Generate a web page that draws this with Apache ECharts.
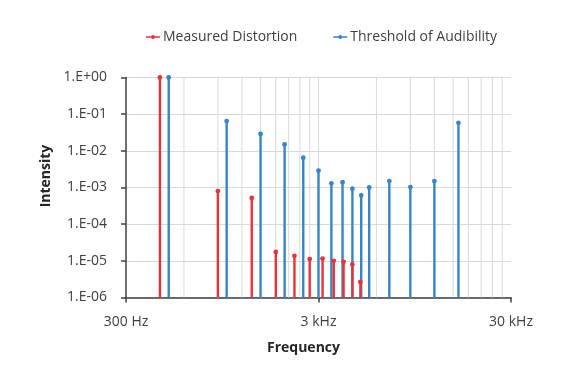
<!DOCTYPE html>
<html>
<head>
<meta charset="utf-8">
<script src="https://cdn.jsdelivr.net/npm/echarts@6/dist/echarts.min.js"></script>
<style>
  html, body { margin: 0; padding: 0; background: #fff; }
  #chart { width: 569px; height: 379px; }
</style>
</head>
<body>
<div id="chart"></div>
<script>
// ---- data ----
const distortionFreq = [450, 900, 1350, 1800, 2250, 2700, 3150, 3600, 4050, 4500, 4950];
const distortionValue = [1, 8.0e-4, 5.2e-4, 1.75e-5, 1.37e-5, 1.12e-5, 1.15e-5, 1.0e-5, 9.4e-6, 8.0e-6, 2.65e-6];
const thresholdFreq = [500, 1000, 1500, 2000, 2500, 3000, 3500, 4000, 4500, 5000, 5500, 7000, 9000, 12000, 16000];
const thresholdValue = [1, 6.5e-2, 2.9e-2, 1.5e-2, 6.5e-3, 2.9e-3, 1.3e-3, 1.4e-3, 9.3e-4, 6.1e-4, 1.0e-3, 1.5e-3, 1.03e-3, 1.5e-3, 5.8e-2];
const xTickFreq = [300, 3000, 30000];
const xTickLabels = ['300 Hz', '3 kHz', '30 kHz'];
const xGridFreq = [600, 900, 1200, 1500, 1800, 2100, 2400, 2700, 3000, 6000, 9000, 12000, 15000, 18000, 21000, 24000, 27000];
const yTickLabels = ['1.E-06', '1.E-05', '1.E-04', '1.E-03', '1.E-02', '1.E-01', '1.E+00'];
const seriesNames = ['Measured Distortion', 'Threshold of Audibility'];

// ---- helpers ----
const F0 = xTickFreq[0];
const toX = f => Math.log10(f / F0);
const toY = v => Math.log10(v);
const Y_MIN = -6, Y_MAX = 0;
const RED = '#e8333a', BLUE = '#3784c6';
const FONT = 'Open Sans';

function stemRender(color) {
  return function (params, api) {
    const x = api.value(0), y = api.value(1);
    const top = api.coord([x, y]);
    const base = api.coord([x, Y_MIN]);
    return {
      type: 'group',
      children: [
        { type: 'line', shape: { x1: top[0], y1: top[1], x2: base[0], y2: base[1] },
          style: { stroke: color, lineWidth: 2.4 } },
        { type: 'circle', shape: { cx: top[0], cy: top[1], r: 2.4 }, style: { fill: color } }
      ]
    };
  };
}

const legendIcon = 'path://M0,5.3H14V6.7H0Z M7,4A2,2 0 1,1 7,8A2,2 0 1,1 7,4Z';

const chart = echarts.init(document.getElementById('chart'), null, { renderer: 'canvas' });
chart.setOption({
  animation: false,
  backgroundColor: '#fff',
  textStyle: { fontFamily: FONT },
  grid: { left: 126, right: 58, top: 77.5, bottom: 81.5 },
  legend: {
    left: 141, top: 25,
    itemWidth: 14, itemHeight: 4, itemGap: 36,
    data: [
      { name: seriesNames[0], icon: legendIcon, itemStyle: { color: RED } },
      { name: seriesNames[1], icon: legendIcon, itemStyle: { color: BLUE } }
    ],
    textStyle: { fontSize: 14, color: '#404040', fontFamily: FONT, padding: [0, 0, 0, -2] }
  },
  xAxis: {
    type: 'value', min: 0, max: toX(xTickFreq[2]), interval: 1,
    axisLine: { onZero: false, lineStyle: { color: '#404040', width: 1.5 } },
    axisTick: { show: true, length: 5, lineStyle: { color: '#404040', width: 1.5 } },
    splitLine: { show: false },
    axisLabel: {
      fontSize: 14, color: '#404040', margin: 18, fontFamily: FONT,
      formatter: v => { const i = Math.round(v); return xTickLabels[i] || ''; }
    }
  },
  yAxis: {
    type: 'value', min: Y_MIN, max: Y_MAX, interval: 1,
    axisLine: { show: true, onZero: false, lineStyle: { color: '#404040', width: 1.5 } },
    axisTick: { show: true, length: 5, lineStyle: { color: '#404040', width: 1.5 } },
    splitLine: { show: true, lineStyle: { color: '#d9d9d9', width: 1 } },
    axisLabel: {
      fontSize: 14, color: '#404040', margin: 19, fontFamily: FONT,
      formatter: v => yTickLabels[Math.round(v - Y_MIN)] || ''
    }
  },
  graphic: [
    { type: 'text', left: 300 - 33, top: 341,
      style: { text: 'Frequency', font: 'bold 14px "Open Sans"', fill: '#262626' } },
    { type: 'text', x: 46, y: 176, rotation: Math.PI / 2, originX: 0, originY: 0,
      style: { text: 'Intensity', font: 'bold 14px "Open Sans"', fill: '#262626',
               align: 'center', verticalAlign: 'middle' } }
  ],
  series: [
    {
      type: 'custom', name: 'grid', silent: true, z: 1,
      data: xGridFreq.map(f => [toX(f)]),
      renderItem: (params, api) => {
        const a = api.coord([api.value(0), Y_MIN]);
        const b = api.coord([api.value(0), Y_MAX]);
        return { type: 'line', shape: { x1: a[0], y1: a[1], x2: b[0], y2: b[1] },
                 style: { stroke: '#d9d9d9', lineWidth: 1 } };
      }
    },
    {
      type: 'custom', name: seriesNames[0], z: 3,
      itemStyle: { color: RED },
      data: distortionFreq.map((f, i) => [toX(f), toY(distortionValue[i])]),
      renderItem: stemRender(RED)
    },
    {
      type: 'custom', name: seriesNames[1], z: 2,
      itemStyle: { color: BLUE },
      data: thresholdFreq.map((f, i) => [toX(f), toY(thresholdValue[i])]),
      renderItem: stemRender(BLUE)
    }
  ]
});
</script>
</body>
</html>
